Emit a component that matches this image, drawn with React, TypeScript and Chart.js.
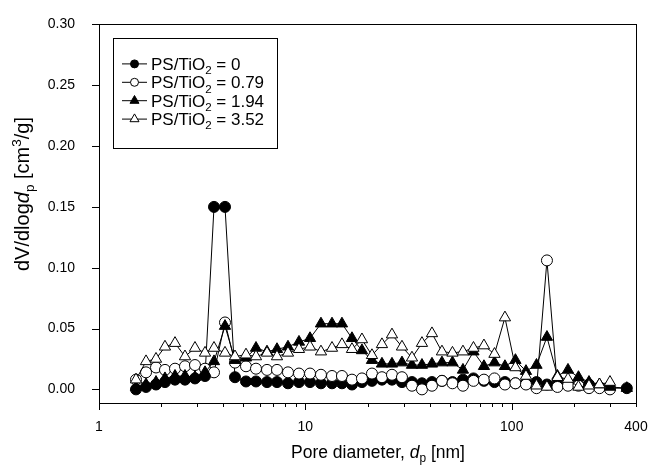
import React, { useEffect, useRef } from 'react';
import { Chart, registerables } from 'chart.js';

Chart.register(...registerables);

// ---------------- data ----------------
const DIAMETER_NM = [
  1.511, 1.69, 1.889, 2.088, 2.335, 2.61, 2.918, 3.264, 3.608, 4.079,
  4.56, 5.155, 5.764, 6.516, 7.286, 8.236, 9.311, 10.53, 11.9, 13.46,
  15.04, 16.82, 18.8, 21.02, 23.5, 26.28, 29.38, 32.85, 36.72, 41.06,
  45.9, 51.61, 58.02, 65.23, 73.33, 82.46, 92.69, 104.2, 117.2, 131.8,
  148.1, 166.5, 187.3, 210.5, 236.7, 266.1, 299.2, 361.0,
];

const PS_0 = [
  0.0, 0.002, 0.004, 0.006, 0.008, 0.008, 0.009, 0.011, 0.15, 0.15,
  0.01, 0.0065, 0.0065, 0.006, 0.006, 0.005, 0.006, 0.006, 0.005, 0.005,
  0.005, 0.004, 0.006, 0.007, 0.008, 0.008, 0.006, 0.006, 0.005, 0.006,
  0.007, 0.006, 0.008, 0.009, 0.007, 0.006, 0.006, 0.005, 0.005, 0.006,
  0.004, 0.004, 0.005, 0.004, 0.004, 0.002, 0.001, 0.001,
];

const PS_079 = [
  0.008, 0.014, 0.018, 0.016, 0.017, 0.019, 0.02, 0.017, 0.014, 0.055,
  0.022, 0.019, 0.017, 0.016, 0.016, 0.014, 0.013, 0.013, 0.012, 0.011,
  0.011, 0.008, 0.009, 0.013, 0.01, 0.012, 0.01, 0.003, 0.0, 0.003,
  0.007, 0.005, 0.003, 0.007, 0.008, 0.009, 0.004, 0.005, 0.004, 0.001,
  0.106, 0.002, 0.003, 0.003, 0.001, 0.001, 0.0, null,
];

const PS_194 = [
  0.002, 0.004, 0.006, 0.009, 0.011, 0.011, 0.01, 0.014, 0.023, 0.052,
  0.024, 0.026, 0.034, 0.031, 0.033, 0.035, 0.039, 0.042, 0.054, 0.054,
  0.054, 0.042, 0.032, 0.024, 0.021, 0.021, 0.022, 0.02, 0.02, 0.021,
  0.022, 0.022, 0.016, 0.031, 0.019, 0.022, 0.019, 0.024, 0.015, 0.02,
  0.043, 0.011, 0.016, 0.01, 0.006, 0.004, 0.002, 0.001,
];

const PS_352 = [
  0.008, 0.023, 0.025, 0.035, 0.038, 0.027, 0.034, 0.03, 0.034, 0.03,
  0.027, 0.0285, 0.027, 0.03, 0.027, 0.03, 0.033, 0.035, 0.031, 0.034,
  0.037, 0.033, 0.041, 0.028, 0.037, 0.045, 0.035, 0.026, 0.038, 0.046,
  0.031, 0.03, 0.031, 0.034, 0.036, 0.029, 0.059, 0.018, 0.011, 0.003,
  0.002, 0.01, 0.0085, 0.002, 0.003, 0.004, 0.006, null,
];

const RATIOS = ['0', '0.79', '1.94', '3.52'];
const SERIES = [PS_0, PS_079, PS_194, PS_352];

const X_TICKS = [1, 2, 3, 4, 5, 6, 7, 8, 9, 10, 20, 30, 40, 50, 60, 70, 80, 90, 100, 200, 300, 400];
const X_LABELS = [1, 10, 100, 400];
const X_MAJOR = [1, 10, 100];
const Y_TICKS = [0, 0.05, 0.1, 0.15, 0.2, 0.25, 0.3];
const X_MIN = 1;
const X_MAX = 400;
const Y_MIN = -0.0112;
const Y_MAX = 0.3;

// ---------------- styling ----------------
const FONT = "'Liberation Sans', Arial, Helvetica, sans-serif";
const INK = '#000';

const MARKERS = [
  { style: 'circle', fill: '#000', r: 5.5, lr: 4 },
  { style: 'circle', fill: '#fff', r: 5.5, lr: 4 },
  { style: 'triangle', fill: '#000', r: 6.5, lr: 5.2 },
  { style: 'triangle', fill: '#fff', r: 6.5, lr: 5.2 },
];

type Seg = { t: string; i?: boolean; sub?: boolean; sup?: boolean };

function segFont(s: Seg, size: number) {
  const sz = s.sub || s.sup ? size * 0.68 : size;
  return `${s.i ? 'italic ' : ''}${sz}px ${FONT}`;
}
function richWidth(ctx: CanvasRenderingContext2D, segs: Seg[], size: number) {
  let w = 0;
  for (const s of segs) {
    ctx.font = segFont(s, size);
    w += ctx.measureText(s.t).width;
  }
  return w;
}
function drawRich(ctx: CanvasRenderingContext2D, segs: Seg[], size: number, x: number, y: number) {
  let cx = x;
  ctx.textBaseline = 'alphabetic';
  ctx.textAlign = 'left';
  for (const s of segs) {
    ctx.font = segFont(s, size);
    const dy = s.sub ? size * 0.25 : s.sup ? -size * 0.4 : 0;
    ctx.fillText(s.t, cx, y + dy);
    cx += ctx.measureText(s.t).width;
  }
}
function drawMarker(ctx: CanvasRenderingContext2D, style: string, fill: string, x: number, y: number, r: number) {
  ctx.beginPath();
  if (style === 'circle') {
    ctx.arc(x, y, r, 0, Math.PI * 2);
  } else {
    for (let k = 0; k < 3; k++) {
      const a = (k * 2 * Math.PI) / 3;
      const px = x + Math.sin(a) * r;
      const py = y - Math.cos(a) * r;
      if (k === 0) ctx.moveTo(px, py);
      else ctx.lineTo(px, py);
    }
    ctx.closePath();
  }
  ctx.fillStyle = fill;
  ctx.fill();
  ctx.lineWidth = 1;
  ctx.strokeStyle = INK;
  ctx.stroke();
}

const X_TITLE: Seg[] = [{ t: 'Pore diameter, ' }, { t: 'd', i: true }, { t: 'p', sub: true }, { t: ' [nm]' }];
const Y_TITLE: Seg[] = [
  { t: 'dV/dlog' },
  { t: 'd', i: true },
  { t: 'p', sub: true },
  { t: ' [cm' },
  { t: '3', sup: true },
  { t: '/g]' },
];

const decorPlugin = {
  id: 'decor',
  afterDraw(chart: any) {
    const ctx: CanvasRenderingContext2D = chart.ctx;
    const a = chart.chartArea;
    const xs = chart.scales.x;
    const ys = chart.scales.y;
    ctx.save();
    ctx.strokeStyle = INK;
    ctx.fillStyle = INK;
    ctx.lineWidth = 1;

    // frame
    ctx.strokeRect(Math.round(a.left) + 0.5, Math.round(a.top) + 0.5, Math.round(a.right - a.left), Math.round(a.bottom - a.top));

    // x ticks (outward)
    ctx.beginPath();
    for (const v of X_TICKS) {
      const px = Math.round(xs.getPixelForValue(v)) + 0.5;
      const len = X_MAJOR.includes(v) ? 7 : 4;
      ctx.moveTo(px, a.bottom);
      ctx.lineTo(px, a.bottom + len);
    }
    // y ticks (outward)
    for (const v of Y_TICKS) {
      const py = Math.round(ys.getPixelForValue(v)) + 0.5;
      ctx.moveTo(a.left, py);
      ctx.lineTo(a.left - 7, py);
    }
    ctx.stroke();

    // axis titles
    ctx.fillStyle = INK;
    const xSize = 17.5;
    const xw = richWidth(ctx, X_TITLE, xSize);
    drawRich(ctx, X_TITLE, xSize, 378 - xw / 2, 458);

    const ySize = 20;
    const yw = richWidth(ctx, Y_TITLE, ySize);
    ctx.save();
    ctx.translate(29, 194);
    ctx.rotate(-Math.PI / 2);
    drawRich(ctx, Y_TITLE, ySize, -yw / 2, 0);
    ctx.restore();

    // legend
    const L = a.left + 14;
    const T = a.top + 14;
    ctx.lineWidth = 1;
    ctx.strokeStyle = INK;
    ctx.strokeRect(Math.round(L) + 0.5, Math.round(T) + 0.5, 164, 110);
    const lSize = 17;
    RATIOS.forEach((r, i) => {
      const cy = T + 25.5 + i * 18.4;
      ctx.beginPath();
      ctx.moveTo(L + 9, cy);
      ctx.lineTo(L + 34, cy);
      ctx.strokeStyle = INK;
      ctx.lineWidth = 1;
      ctx.stroke();
      const m = MARKERS[i];
      drawMarker(ctx, m.style, m.fill, L + 21.5, cy, m.lr);
      ctx.fillStyle = INK;
      drawRich(ctx, [{ t: 'PS/TiO' }, { t: '2', sub: true }, { t: ' = ' + r }], lSize, L + 38, cy + 6);
    });
    ctx.restore();
  },
};

export default function App() {
  const ref = useRef<HTMLCanvasElement>(null);
  useEffect(() => {
    const datasets = SERIES.map((vals, i) => {
      const pts: { x: number; y: number }[] = [];
      vals.forEach((v, k) => {
        if (v !== null && v !== undefined) pts.push({ x: DIAMETER_NM[k], y: v as number });
      });
      const m = MARKERS[i];
      return {
        label: 'PS/TiO2 = ' + RATIOS[i],
        data: pts,
        borderColor: INK,
        borderWidth: 1,
        backgroundColor: m.fill,
        pointStyle: m.style,
        pointRadius: m.r,
        pointHoverRadius: m.r,
        pointBackgroundColor: m.fill,
        pointBorderColor: INK,
        pointBorderWidth: 1,
        fill: false,
        tension: 0,
        order: 3 - i,
      };
    });

    const chart = new Chart(ref.current as HTMLCanvasElement, {
      type: 'line',
      data: { datasets: datasets as any },
      options: {
        animation: false,
        responsive: false,
        devicePixelRatio: 1,
        layout: { padding: { left: 0, top: 14, right: 30, bottom: 0 } },
        plugins: { legend: { display: false }, tooltip: { enabled: false } },
        scales: {
          x: {
            type: 'logarithmic',
            min: X_MIN,
            max: X_MAX,
            afterBuildTicks: (s: any) => {
              s.ticks = X_TICKS.map((v) => ({ value: v }));
            },
            afterFit: (s: any) => {
              s.height = 65;
            },
            grid: { display: false },
            border: { display: false },
            ticks: {
              autoSkip: false,
              maxRotation: 0,
              padding: 8,
              color: INK,
              font: { family: FONT, size: 14 },
              callback: (v: any) => (X_LABELS.includes(Number(v)) ? String(v) : ''),
            },
          },
          y: {
            type: 'linear',
            min: Y_MIN,
            max: Y_MAX,
            afterBuildTicks: (s: any) => {
              s.ticks = Y_TICKS.map((v) => ({ value: v }));
            },
            afterFit: (s: any) => {
              s.width = 99;
            },
            grid: { display: false },
            border: { display: false },
            ticks: {
              padding: 16,
              color: INK,
              font: { family: FONT, size: 14 },
              callback: (v: any) => Number(v).toFixed(2),
            },
          },
        },
      } as any,
      plugins: [decorPlugin],
    });
    return () => chart.destroy();
  }, []);

  return (
    <div style={{ position: 'fixed', left: 0, top: 0, width: 666, height: 468, background: '#fff' }}>
      <canvas ref={ref} width={666} height={468} style={{ display: 'block', width: 666, height: 468 }} />
    </div>
  );
}
